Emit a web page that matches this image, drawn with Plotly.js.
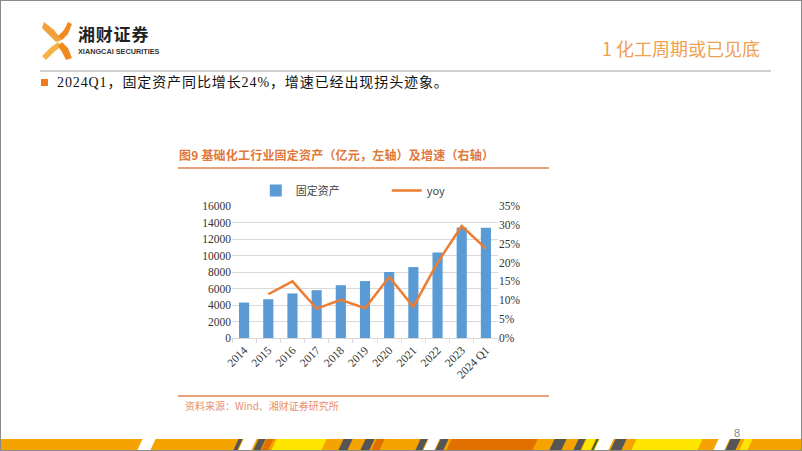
<!DOCTYPE html>
<html>
<head>
<meta charset="utf-8">
<script src="https://cdn.plot.ly/plotly-3.0.1.min.js"></script>
<style>
  html, body { margin: 0; padding: 0; }
  body { width: 802px; height: 451px; position: relative; overflow: hidden; background: #fff; font-family: "Noto Sans CJK SC", sans-serif; }
  #frame { position: absolute; left: 0; top: 0; width: 800px; height: 449px; border: 1px solid #8a8a8a; }
  #chart { position: absolute; left: 170px; top: 175px; width: 390px; height: 220px; }
  .abs { position: absolute; white-space: nowrap; line-height: 1; }
  .stripe { position: absolute; top: 439px; height: 11px; transform: skewX(-25deg); }
</style>
</head>
<body>
<div id="frame"></div>

<!-- logo -->
<svg class="abs" style="left:38px;top:20px;" width="40" height="42" viewBox="0 0 40 42">
  <polygon points="6,2 16,10 24,20 18,22 10,14 4,8" fill="#F2A23A"/>
  <polygon points="30,2 34,4 30,14 24,20 20,16 26,10" fill="#F08A1E"/>
  <polygon points="4,36 12,28 20,22 24,26 16,32 8,40" fill="#F5B347"/>
  <polygon points="24,22 30,28 34,38 28,40 24,32 20,26" fill="#F08A1E"/>
</svg>
<div class="abs" style="left:78px;top:25px;font-size:17px;font-weight:bold;color:#222;letter-spacing:0.8px;">湘财证券</div>
<div class="abs" style="left:78px;top:47.5px;font-family:'Liberation Sans';font-size:7.3px;font-weight:bold;color:#333;">XIANGCAI SECURITIES</div>

<!-- header -->
<div class="abs" style="left:602px;top:39px;font-size:18px;color:#F0A050;">1 化工周期或已见底</div>
<div class="abs" style="left:40px;top:70px;width:731px;height:2px;background:#cfcfcf;"></div>

<!-- bullet -->
<div class="abs" style="left:41px;top:79px;width:7px;height:7px;background:#F07A20;"></div>
<div class="abs" style="left:57px;top:76px;font-size:14px;color:#111;letter-spacing:0.9px;font-family:'Liberation Serif','Noto Sans CJK SC';">2024Q1，固定资产同比增长24%，增速已经出现拐头迹象。</div>

<!-- chart title -->
<div class="abs" style="left:179px;top:149px;font-size:12px;font-weight:bold;color:#E0783A;letter-spacing:0.2px;">图9 基础化工行业固定资产（亿元，左轴）及增速（右轴）</div>
<div class="abs" style="left:178px;top:167px;width:371px;height:1.5px;background:#E9A07C;"></div>

<!-- source -->
<div class="abs" style="left:178px;top:395px;width:371px;height:1.5px;background:#E9A07C;"></div>
<div class="abs" style="left:185px;top:401px;font-size:10px;color:#E8906A;">资料来源：Wind、湘财证券研究所</div>

<!-- page number -->
<div class="abs" style="left:734px;top:428px;font-size:11px;color:#888;font-family:'Liberation Sans';">8</div>

<!-- bottom stripes -->
<div class="abs" style="left:1px;top:439px;width:800px;height:11px;background:#F4A300;"></div>
<div class="stripe" style="left:140px;width:13px;background:#fff;"></div>
<div class="stripe" style="left:236px;width:4px;background:#555;"></div>
<div class="stripe" style="left:241px;width:13px;background:#fff;"></div>
<div class="stripe" style="left:256px;width:7px;background:#555;"></div>
<div class="stripe" style="left:264px;width:7px;background:#E07000;"></div>
<div class="stripe" style="left:274px;width:50px;background:#FFE600;"></div>
<div class="stripe" style="left:341px;width:9px;background:#555;"></div>
<div class="stripe" style="left:363px;width:9px;background:#555;"></div>
<div class="stripe" style="left:374px;width:8px;background:#E07000;"></div>
<div class="stripe" style="left:418px;width:7px;background:#555;"></div>
<div class="stripe" style="left:426px;width:11px;background:#fff;"></div>
<div class="stripe" style="left:438px;width:8px;background:#555;"></div>
<div class="stripe" style="left:449px;width:86px;background:#E07000;"></div>
<div class="stripe" style="left:552px;width:12px;background:#555;"></div>
<div class="stripe" style="left:576px;width:7px;background:#555;"></div>
<div class="stripe" style="left:584px;width:9px;background:#FFE600;"></div>
<div class="stripe" style="left:594px;width:2px;background:#2a6a2a;"></div>
<div class="stripe" style="left:597px;width:14px;background:#fff;"></div>
<div class="stripe" style="left:613px;width:11px;background:#555;"></div>
<div class="stripe" style="left:634px;width:66px;background:#FFE600;"></div>
<div class="stripe" style="left:716px;width:11px;background:#fff;"></div>
<div class="stripe" style="left:728px;width:10px;background:#555;"></div>
<div class="stripe" style="left:742px;width:8px;background:#FFE600;"></div>

<div id="chart"></div>

<script>
const categories = ["2014", "2015", "2016", "2017", "2018", "2019", "2020", "2021", "2022", "2023", "2024 Q1"];
const fixedAssets = [4300, 4700, 5400, 5800, 6400, 6900, 8000, 8600, 10350, 13400, 13350];
const yoy = [null, 0.116, 0.150, 0.078, 0.101, 0.079, 0.162, 0.083, 0.200, 0.297, 0.237];
const leftTicks = [0, 2000, 4000, 6000, 8000, 10000, 12000, 14000, 16000];
const rightTicks = [0, 0.05, 0.10, 0.15, 0.20, 0.25, 0.30, 0.35];

const tickFont = { family: "Liberation Serif, Times New Roman, serif", size: 11.5, color: "#333" };

const traces = [
  {
    type: "bar", name: "固定资产", x: categories, y: fixedAssets,
    marker: { color: "#5B9BD5" }, yaxis: "y"
  },
  {
    type: "scatter", mode: "lines", name: "yoy", x: categories, y: yoy,
    line: { color: "#ED7D31", width: 2.5 }, yaxis: "y2", connectgaps: false
  }
];

const layout = {
  width: 390, height: 220,
  margin: { l: 62, r: 62, t: 31, b: 57, autoexpand: false },
  paper_bgcolor: "rgba(0,0,0,0)", plot_bgcolor: "rgba(0,0,0,0)",
  showlegend: true,
  legend: {
    orientation: "h", xref: "container", yref: "container",
    x: 0.22, y: 0.93, xanchor: "left", yanchor: "middle",
    font: { family: "Noto Sans CJK SC, Liberation Serif", size: 11, color: "#444" },
    entrywidth: 86, bgcolor: "rgba(0,0,0,0)", itemwidth: 30
  },
  bargap: 0.58,
  xaxis: {
    type: "category", tickangle: -45, tickfont: tickFont,
    showline: true, linecolor: "#D9D9D9", linewidth: 1,
    ticks: "outside", ticklen: 4, tickcolor: "#D9D9D9", tickson: "boundaries",
    showgrid: false
  },
  yaxis: {
    range: [0, 16000], tickvals: leftTicks, ticktext: leftTicks.map(String),
    tickfont: tickFont, showgrid: true, gridcolor: "#D9D9D9", gridwidth: 1,
    zeroline: false, showline: false, ticks: ""
  },
  yaxis2: {
    overlaying: "y", side: "right", range: [0, 0.35], tickvals: rightTicks,
    ticktext: rightTicks.map(v => Math.round(v * 100) + "%"),
    tickfont: tickFont, showgrid: false, zeroline: false, showline: false, ticks: ""
  }
};

Plotly.newPlot("chart", traces, layout, { displayModeBar: false, staticPlot: true });
</script>
</body>
</html>
